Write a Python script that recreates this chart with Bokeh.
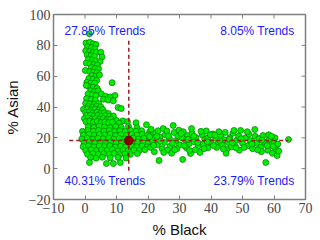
import math
from bokeh.plotting import figure
from bokeh.models import Label, FixedTicker, Range1d
from bokeh.embed import file_html
from bokeh.resources import INLINE

# ---- data: (% Black, % Asian) pairs ----
arm_upper = [(1.4,87.5),(0.3,81.5),(1.5,82),(2.6,81),(3.5,80.5),(0.8,79),(2.1,78.5),(3.1,77.8),(0.2,76.5),
             (1.4,76),(2.6,75.5),(3.6,75.5),(5.0,75.5),(0.7,73.8),(1.9,73.2),(3.0,72.8),(5.4,72.5),(1.1,71),
             (2.3,70.5),(3.4,70),(4.8,69.5),(0.4,68.5),(1.6,68),(2.8,67.5),(3.9,67.2),(2.0,65.5),(3.2,65),
             (4.3,64.8),(0.1,63.7),(1.5,63),(2.7,62.5),(3.8,62.2),(2.2,60.5),(3.4,60),(4.6,60.8)]
arm_mid = [(1.2,58.5),(2.5,58),(3.7,57.2),(0.6,56),(1.9,55.5),(3.1,55.5),(8.6,55.8),(1.3,53.2),(2.6,52.8),
           (3.8,52.2),(0.4,54),(1.8,50.5),(3.0,50),(4.2,50.5),(1.0,48.5),(2.3,48),(3.5,47.5),(5.2,48.5),
           (6.5,47),(8.0,46.5),(9.5,47.5),(5.8,45),(7.3,44.5),(9.0,44),(0.5,45.5),(2.0,44.8),(3.3,44.3),
           (0.2,42.5),(1.6,42),(2.9,41.8),(4.3,42.2),(10.5,39.7),(11.5,39),(1.0,40.3),(2.4,40),(3.7,40.5),
           (5.0,40.2)]
arm_lower = [(-0.5,38.5),(0.8,38.8),(2.0,38.2),(3.2,38.6),(4.4,38),(5.6,38.4),(0.2,36.5),
             (1.4,36.8),(2.6,36.2),(3.8,36.6),(5.0,36),(6.2,36.4),(7.4,35.8),(0.5,34.5),
             (1.7,34.8),(2.9,34.2),(4.1,34.6),(5.3,34),(6.5,34.4),(7.7,33.8),(9.0,34.2),(-0.2,32.5),
             (1.0,32.8),(2.2,32.2),(3.4,32.6),(4.6,32),(5.8,32.4),(7.0,31.8),(8.2,32.2),(10.0,31.2),
             (12.0,31),(0.3,30.5),(1.5,30.8),(2.7,30.2),(3.9,30.6),(5.1,30),(6.3,30.4),(7.5,29.8),
             (8.7,30.2),(10.8,29.5),(13.5,30.5),(16.2,29.8),(19.5,28.5)]
blob = [(1.0,27.2),(2.8,26.8),(4.5,27.5),(6.2,27),(8.0,26.6),(9.8,27.3),(11.5,26.9),(13.8,27.4),(16.5,26.5),
        (-0.8,24.2),(0.9,24.8),(2.6,24.3),(4.3,24.9),(6.0,24.4),(7.7,24.7),(9.4,24.1),(11.1,24.6),(12.8,24.2),
        (14.5,24.8),(16.2,24.3),(18.0,24.6),(20.5,23.8),
        (-0.5,21.8),(1.2,22.3),(2.9,21.7),(4.6,22.2),(6.3,21.9),(8.0,22.4),(9.7,21.6),(11.4,22.1),(13.1,21.5),
        (14.8,22.2),(16.5,21.8),(18.2,22.3),(19.9,21.6),(21.6,22.4),
        (-1.0,19.3),(0.7,19.8),(2.4,19.2),(4.1,19.7),(5.8,19.4),(7.5,19.9),(9.2,19.1),(10.9,19.6),(12.6,19.3),
        (15.3,19.8),(17.0,19.2),(18.7,19.7),(20.4,19.3),
        (-0.3,16.8),(1.4,17.3),(3.1,16.7),(4.8,17.2),(6.5,16.9),(8.2,17.4),(9.9,16.6),(11.6,17.1),(15.0,16.8),
        (16.7,17.3),(18.4,16.7),(20.1,17.2),(22.0,16.6),
        (-0.6,14.3),(1.1,14.8),(2.8,14.2),(4.5,14.7),(6.2,14.4),(7.9,14.9),(9.6,14.1),(11.3,14.6),(13.0,14.2),
        (14.7,14.8),(16.4,14.3),(18.1,14.7),(19.8,14.2),
        (0.2,11.8),(1.9,12.3),(3.6,11.7),(5.3,12.2),(7.0,11.9),(8.7,12.4),(10.4,11.6),(12.1,12.1),(13.8,11.7),
        (15.5,12.2),(17.2,11.8),(19.0,12.3),
        (0.8,9.3),(2.5,9.8),(4.2,9.2),(5.9,9.7),(7.6,9.4),(9.3,9.9),(11.0,9.1),(12.7,9.6),(14.4,9.3),(16.6,9.8),
        (1.8,7.2),(3.5,6.8),(5.5,7.4),(8.0,7.0),(10.5,7.3),(13.0,6.9),
        (6.8,3.3),(9.0,3.3),(11.2,4.0),(1.4,4.0)]
band = [(21.0,25.5),(22.5,23.0),(23.8,20.5),(21.5,18.0),(23.0,15.5),(24.5,13.0),(22.0,11.0),(25.5,22.0),
        (26.8,19.5),(25.2,17.0),(27.0,14.5),(26.2,12.0),(28.3,23.5),(28.0,28.0),(24.8,26.0),(29.5,21.0),
        (28.8,18.0),(30.0,15.5),(29.2,13.0),(27.5,10.0),(23.5,5.3),(31.0,6.0),(20.8,13.8),(22.8,20.8),
        (26.0,24.5),(29.8,25.0),
        (31.2,24.0),(32.5,21.5),(31.8,18.8),(33.0,16.2),(32.2,13.5),(34.0,23.0),(35.2,20.2),(34.6,17.5),
        (36.0,14.8),(35.0,12.2),(37.2,22.0),(38.0,19.0),(37.5,16.0),(39.0,13.5),(38.5,24.5),(39.0,20.0),
        (40.0,17.2),(36.5,10.5),(33.5,9.8),(40.5,22.5),(30.8,20.0),(33.8,26.0),
        (41.5,19.8),(42.3,16.5),(41.8,13.8),(43.0,21.5),(44.2,18.8),(43.6,15.2),(45.0,12.5),(46.0,20.2),
        (45.5,17.0),(47.0,23.0),(47.3,24.8),(49.4,24.8),(48.2,18.5),(47.5,15.0),(49.0,12.0),(48.8,21.0),
        (50.0,16.5),(42.5,24.0),(44.8,10.0),(46.5,14.2),
        (51.0,20.0),(51.8,15.0),(52.5,18.2),(53.2,13.0),(53.9,25.4),(54.0,21.0),(54.5,16.5),(55.2,19.5),
        (55.8,14.0),(56.5,21.5),(57.0,17.0),(57.4,4.0),(58.0,12.0),(58.5,19.0),(59.0,15.5),(59.5,10.0),
        (60.0,17.5),(60.5,13.0),(61.0,8.5),(61.5,11.5),(56.0,11.0),(52.0,22.5),(58.3,22.0),(60.3,20.0),
        (64.6,18.9)]
band_fill = [(20.5,20.8),(21.8,15.2),(23.2,24.6),(24.0,17.8),(25.0,10.5),(26.5,21.2),(27.8,16.5),
             (28.5,12.3),(30.5,22.8),(31.5,15.0),(32.8,19.0),(33.2,11.8),(34.5,21.0),(35.8,17.0),
             (36.8,24.2),(37.8,13.0),(38.8,17.5),(39.8,22.0),(40.8,15.0),(41.2,21.8),(42.8,18.2),
             (43.9,12.8),(44.5,23.5),(45.8,19.0),(46.8,16.8),(48.0,13.5),(49.5,19.5),(50.5,13.8),
             (51.5,24.0),(53.0,16.0),(54.8,12.2),(56.2,18.5),(57.8,15.0),(59.2,21.0),(59.8,14.5),
             (61.2,16.0)]

mean_black = 13.9
mean_asian = 18.2
hline_black = [-5.0, 64.6]
vline_asian = [-1.3, 84.5]

x_ticks = [-10, 0, 10, 20, 30, 40, 50, 60, 70]
y_ticks = [-20, 0, 20, 40, 60, 80, 100]
quadrant_texts = ["27.85% Trends", "8.05% Trends", "40.31% Trends", "23.79% Trends"]
quadrant_x = [-6.5, 66.5, -6.5, 66.5]
quadrant_y = [89.6, 89.6, -8.3, -8.3]
quadrant_align = ["left", "right", "left", "right"]

all_pts = arm_upper + arm_mid + arm_lower + blob + band + band_fill
pct_black = [pt[0] for pt in all_pts]
pct_asian = [pt[1] for pt in all_pts]

p = figure(width=320, height=240, output_backend="svg", toolbar_location=None,
           x_range=Range1d(x_ticks[0], x_ticks[-1]), y_range=Range1d(y_ticks[0], y_ticks[-1]),
           min_border_left=52, min_border_right=15, min_border_top=14, min_border_bottom=41)
p.grid.visible = False
p.outline_line_color = "#7f7f7f"
p.outline_line_width = 1.5
p.background_fill_color = "white"
p.border_fill_color = "white"

minus = lambda t: str(t).replace("-", "\u2212")

for ax, ticks in ((p.xaxis[0], x_ticks), (p.yaxis[0], y_ticks)):
    ax.ticker = FixedTicker(ticks=ticks)
    ax.major_label_overrides = {t: minus(t) for t in ticks}
    ax.major_tick_in = 4
    ax.major_tick_out = 0
    ax.major_tick_line_color = "#7f7f7f"
    ax.minor_tick_line_color = None
    ax.axis_line_color = None
    ax.major_label_text_font = "Liberation Serif"
    ax.major_label_text_font_size = "14px"
    ax.major_label_text_color = "#444444"
    ax.major_label_standoff = 3
    ax.axis_label_text_font = "Liberation Sans"
    ax.axis_label_text_font_size = "15px"
    ax.axis_label_text_font_style = "normal"
    ax.axis_label_text_color = "#111111"
    ax.axis_label_standoff = 5
p.xaxis[0].axis_label = "% Black"
p.yaxis[0].axis_label = "% Asian"

p.scatter(pct_black, pct_asian, size=6, marker="circle",
          fill_color="#00ee00", line_color="#007a00", line_width=0.7)

p.line(hline_black, [mean_asian, mean_asian], line_color="#a01c1c", line_width=1.5, line_dash="4 3")
p.line([mean_black, mean_black], vline_asian, line_color="#a01c1c", line_width=1.5, line_dash="4 3")
p.scatter([mean_black], [mean_asian], size=9, marker="circle",
          fill_color="#8b0000", line_color="#6b0000", line_width=0.8)

# inward ticks on the top and right frame edges (half of each dash is clipped by the frame)
p.scatter(x_ticks, [y_ticks[-1]] * len(x_ticks), marker="dash", angle=math.pi / 2, size=8,
          line_color="#7f7f7f", line_width=1)
p.scatter([x_ticks[-1]] * len(y_ticks), y_ticks, marker="dash", size=8,
          line_color="#7f7f7f", line_width=1)

for t, lx, ly, al in zip(quadrant_texts, quadrant_x, quadrant_y, quadrant_align):
    p.add_layout(Label(x=lx, y=ly, text=t, text_font="Liberation Sans", text_font_size="12px",
                       text_color="#1a1aff", text_align=al, text_baseline="middle"))

open("out.html", "w").write(file_html(p, INLINE))
